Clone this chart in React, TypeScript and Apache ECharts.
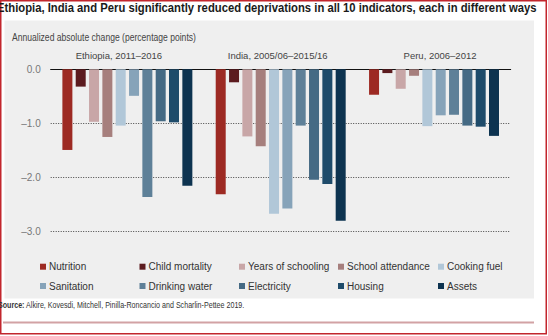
import React, { useEffect, useRef } from "react";
import * as echarts from "echarts";

const countries = ["Ethiopia, 2011–2016", "India, 2005/06–2015/16", "Peru, 2006–2012"];
const indicators = [
  "Nutrition",
  "Child mortality",
  "Years of schooling",
  "School attendance",
  "Cooking fuel",
  "Sanitation",
  "Drinking water",
  "Electricity",
  "Housing",
  "Assets",
];
const nutrition = [-1.49, -2.31, -0.47];
const childMortality = [-0.32, -0.24, -0.07];
const yearsOfSchooling = [-0.97, -1.24, -0.36];
const schoolAttendance = [-1.25, -1.42, -0.12];
const cookingFuel = [-1.04, -2.67, -1.05];
const sanitation = [-0.49, -2.57, -0.85];
const drinkingWater = [-2.36, -1.04, -0.84];
const electricity = [-0.96, -2.04, -1.04];
const housing = [-0.98, -2.12, -1.06];
const assets = [-2.15, -2.8, -1.23];
const seriesValues = [
  nutrition,
  childMortality,
  yearsOfSchooling,
  schoolAttendance,
  cookingFuel,
  sanitation,
  drinkingWater,
  electricity,
  housing,
  assets,
];
const colors = [
  "#9d2a23",
  "#5c1b1f",
  "#c8a6a7",
  "#a67f7d",
  "#b1c7d8",
  "#86a3b9",
  "#5e8098",
  "#456a84",
  "#1e4b6a",
  "#0d3350",
];
const yTicks = { min: -3, max: 0, interval: 1 };

const TITLE = "Ethiopia, India and Peru significantly reduced deprivations in all 10 indicators, each in different ways";
const YTITLE = "Annualized absolute change (percentage points)";
const SRC_B = "Source:";
const SRC_R = " Alkire, Kovesdi, Mitchell, Pinilla-Roncancio and Scharlin-Pettee 2019.";

const FONT = "'Liberation Sans', Arial, sans-serif";

function measure(text: string, font: string): number {
  const ctx = document.createElement("canvas").getContext("2d")!;
  ctx.font = font;
  return ctx.measureText(text).width;
}

export default function App() {
  const ref = useRef<HTMLDivElement>(null);
  useEffect(() => {
    document.body.style.margin = "0";
    const chart = echarts.init(ref.current!, undefined, { renderer: "svg" });

    const titleFont = `bold 13px ${FONT}`;
    const titleScale = 540 / measure(TITLE, titleFont);
    const yTitleFont = `10.5px ${FONT}`;
    const yTitleScale = 184 / measure(YTITLE, yTitleFont);
    const srcW = measure(SRC_B, `bold 8.5px ${FONT}`) + measure(SRC_R, `8.5px ${FONT}`);
    const srcScale = 247 / srcW;

    const colX = [40, 139.5, 239, 338, 438];
    const rowY = [266.7, 286];
    const legends = indicators.map((name, i) => ({
      left: colX[i % 5],
      top: rowY[Math.floor(i / 5)] - 5,
      itemWidth: 6,
      itemHeight: 6,
      icon: "rect",
      padding: 0,
      textStyle: { fontFamily: FONT, fontSize: 10, color: "#333333", padding: [0, 0, 0, -2] },
      data: [name],
    }));

    const labelRich = {
      c0: { padding: [0, 17, 0, 0], fontSize: 9.5, color: "#444444", fontFamily: FONT },
      c1: { padding: [0, 6, 0, 0], fontSize: 9.5, color: "#444444", fontFamily: FONT },
      c2: { padding: [0, 0, 0, 12], fontSize: 9.5, color: "#444444", fontFamily: FONT },
    };

    chart.setOption({
      animation: false,
      backgroundColor: "#ffffff",
      textStyle: { fontFamily: FONT },
      graphic: [
        {
          type: "rect",
          z: -10,
          shape: { x: 4.5, y: 20.5, width: 529.5, height: 278 },
          style: { fill: "#efefef" },
          silent: true,
        },
        {
          type: "line",
          shape: { x1: 3, y1: 322.5, x2: 534, y2: 322.5 },
          style: { stroke: "#d2a2a4", lineWidth: 2 },
          silent: true,
        },
        {
          type: "rect",
          shape: { x: 0.75, y: 0.75, width: 545.5, height: 333 },
          style: { fill: "none", stroke: "#c2262d", lineWidth: 1.5 },
          silent: true,
        },
        {
          type: "text",
          x: -3,
          y: 7.5,
          scaleX: titleScale,
          style: {
            text: TITLE,
            font: titleFont,
            fill: "#1a1a1a",
            textVerticalAlign: "middle",
          },
        },
        {
          type: "text",
          x: 12,
          y: 37,
          scaleX: yTitleScale,
          style: {
            text: YTITLE,
            font: yTitleFont,
            fill: "#444444",
            textVerticalAlign: "middle",
          },
        },
        {
          type: "text",
          x: -2,
          y: 305.5,
          scaleX: srcScale,
          style: {
            text: `{b|${SRC_B}}${SRC_R}`,
            font: `8.5px ${FONT}`,
            fill: "#333333",
            textVerticalAlign: "middle",
            rich: {
              b: { fontWeight: "bold", fontSize: 8.5, fontFamily: FONT, fill: "#333333" },
            },
          },
        },
      ],
      grid: { left: 50.7, right: 37.3, top: 69.3, bottom: 104.3 },
      legend: legends,
      xAxis: {
        type: "category",
        position: "top",
        data: countries,
        axisLine: { show: true, lineStyle: { color: "#111111", width: 1 } },
        axisTick: { show: false },
        axisLabel: {
          interval: 0,
          hideOverlap: false,
          margin: 9,
          fontSize: 9.5,
          color: "#444444",
          fontFamily: FONT,
          formatter: (v: string, idx: number) => `{c${idx}|${v}}`,
          rich: labelRich,
        },
      },
      yAxis: {
        type: "value",
        min: yTicks.min,
        max: yTicks.max,
        interval: yTicks.interval,
        axisLine: { show: false },
        axisTick: { show: false },
        axisLabel: {
          margin: 10,
          fontSize: 10,
          color: "#777777",
          fontFamily: FONT,
          formatter: (v: number) => (v === 0 ? "0.0" : "–" + Math.abs(v).toFixed(1)),
        },
        splitLine: {
          show: true,
          lineStyle: { color: "#444444", type: [1, 1.5], width: 1 },
        },
      },
      series: indicators.map((name, i) => ({
        name,
        type: "bar",
        data: seriesValues[i],
        barWidth: 10,
        barGap: "33.3%",
        itemStyle: { color: colors[i] },
      })),
    });
    return () => chart.dispose();
  }, []);
  return <div ref={ref} style={{ position: "fixed", left: 0, top: 0, width: 548, height: 336 }} />;
}
